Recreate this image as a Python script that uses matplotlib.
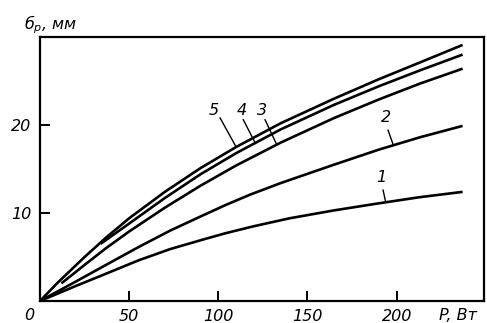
import numpy as np
import matplotlib.pyplot as plt

# curve data (P, W -> delta_p, mm)
p1 = [0, 20, 37, 55, 73, 90, 104, 120, 140, 165, 190, 213, 237]
v1 = [0, 1.7, 3.1, 4.6, 5.9, 6.9, 7.7, 8.5, 9.4, 10.3, 11.1, 11.8, 12.4]

p2 = [0, 20, 37, 55, 73, 90, 104, 118, 135, 165, 190, 213, 237]
v2 = [0, 2.2, 4.1, 6.1, 8.0, 9.6, 10.9, 12.1, 13.4, 15.5, 17.2, 18.6, 19.9]

p3 = [12, 25, 37, 50, 70, 90, 110, 135, 165, 190, 213, 237]
v3 = [2.0, 4.1, 6.0, 7.9, 10.6, 13.1, 15.4, 18.0, 20.8, 22.9, 24.7, 26.4]

p4 = [34, 50, 70, 90, 110, 135, 165, 190, 213, 237]
v4 = [6.5, 8.8, 11.7, 14.4, 16.8, 19.5, 22.3, 24.4, 26.2, 28.0]

p5 = [0, 10, 25, 37, 50, 70, 90, 110, 135, 165, 190, 213, 237]
v5 = [0, 2.1, 5.0, 7.2, 9.4, 12.4, 15.1, 17.5, 20.2, 23.0, 25.2, 27.1, 29.1]

curves = [(p1, v1), (p2, v2), (p3, v3), (p4, v4), (p5, v5)]

# label text, text position, leader line
labels = ["1", "2", "3", "4", "5"]
label_xy = [(191.5, 14.0), (194.3, 20.9), (124.3, 21.6), (113.1, 21.6), (97.3, 21.6)]
leader_from = [(192.4, 12.6), (195.2, 19.4), (126.2, 20.6), (114.0, 20.6), (101.0, 20.8)]
leader_to = [(193.9, 11.2), (198.0, 17.8), (132.7, 17.8), (120.6, 18.0), (110.0, 17.5)]

xticks = [50, 100, 150, 200]
yticks = [10, 20]

fnt = dict(family="DejaVu Sans", style="italic", fontsize=11.5)

fig = plt.figure(figsize=(4.87, 3.23), dpi=100)
ax = fig.add_axes([40 / 487, 1 - 301 / 323, 444 / 487, 264 / 323])

for p, v in curves:
    ax.plot(p, v, color="black", lw=1.9, solid_capstyle="butt", solid_joinstyle="round")

for t, xy, a, b in zip(labels, label_xy, leader_from, leader_to):
    ax.text(xy[0], xy[1], t, ha="center", va="center", **fnt)
    ax.plot([a[0], b[0]], [a[1], b[1]], color="black", lw=1.0)

ax.set_xlim(0, 249)
ax.set_ylim(0, 30)
ax.set_xticks(xticks)
ax.set_yticks(yticks)
ax.set_xticklabels([str(t) for t in xticks], **fnt)
ax.set_yticklabels([str(t) for t in yticks], **fnt)
ax.tick_params(direction="in", length=7, width=1.4, pad=6)
for s in ax.spines.values():
    s.set_linewidth(1.6)

ax.text(-0.025, -0.055, "0", transform=ax.transAxes, ha="center", va="center", **fnt)
ax.text(0.898, -0.055, "P, Вт", transform=ax.transAxes, ha="left", va="center", **fnt)
ax.text(-0.035, 1.045, r"$б_{р}$, мм", transform=ax.transAxes, ha="left", va="center", **fnt)

fig.savefig("out.png", dpi=100)
